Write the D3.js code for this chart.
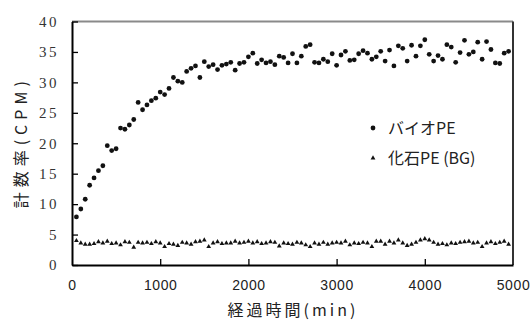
<!DOCTYPE html>
<html>
<head>
<meta charset="utf-8">
<script src="https://cdn.jsdelivr.net/npm/d3@7"></script>
<style>
  body { margin: 0; background: #fff; }
  svg { display: block; }
  .yaxis text { font-family: "Liberation Serif", "DejaVu Serif", serif; }
</style>
</head>
<body>
<div id="chart"></div>
<script>
// elapsed time (min)
const times = [
    50, 100, 150, 200, 250, 300, 350, 400, 450, 500,
    550, 600, 650, 700, 750, 800, 850, 900, 950, 1000,
    1050, 1100, 1150, 1200, 1250, 1300, 1350, 1400, 1450, 1500,
    1550, 1600, 1650, 1700, 1750, 1800, 1850, 1900, 1950, 2000,
    2050, 2100, 2150, 2200, 2250, 2300, 2350, 2400, 2450, 2500,
    2550, 2600, 2650, 2700, 2750, 2800, 2850, 2900, 2950, 3000,
    3050, 3100, 3150, 3200, 3250, 3300, 3350, 3400, 3450, 3500,
    3550, 3600, 3650, 3700, 3750, 3800, 3850, 3900, 3950, 4000,
    4050, 4100, 4150, 4200, 4250, 4300, 4350, 4400, 4450, 4500,
    4550, 4600, 4650, 4700, 4750, 4800, 4850, 4900, 4950
];
// バイオPE count rate (CPM)
const bioPE = [
    7.9, 9.2, 10.8, 13.1, 14.3, 15.5, 16.3, 19.6, 18.8, 19.1,
    22.5, 22.3, 23.0, 23.9, 26.7, 25.5, 26.3, 27.0, 27.4, 28.4,
    28.0, 29.0, 30.8, 30.2, 30.0, 31.8, 32.3, 32.7, 30.8, 33.4,
    32.6, 32.9, 32.1, 32.8, 33.0, 33.3, 32.0, 33.1, 33.3, 34.2,
    34.8, 33.1, 33.7, 33.2, 33.4, 32.9, 34.3, 34.1, 33.2, 34.7,
    33.2, 34.3, 35.9, 36.2, 33.3, 33.2, 33.8, 33.4, 34.7, 32.8,
    34.5, 35.1, 33.6, 33.7, 34.7, 35.2, 34.8, 33.8, 34.2, 35.1,
    33.5, 35.3, 32.7, 36.0, 35.6, 33.5, 36.1, 34.3, 36.0, 37.0,
    34.6, 33.5, 34.4, 33.8, 36.2, 35.8, 33.3, 34.9, 36.9, 34.6,
    35.0, 36.6, 33.8, 36.7, 35.4, 33.2, 33.1, 34.8, 35.1
];
// 化石PE (BG) count rate (CPM)
const fossilPE = [
    4.0, 3.6, 3.4, 3.4, 3.5, 3.8, 3.6, 3.9, 3.5, 3.6,
    3.3, 3.8, 3.7, 2.9, 3.7, 3.6, 3.7, 3.5, 3.8, 3.6,
    3.0, 3.5, 3.4, 3.2, 3.7, 3.6, 3.4, 3.8, 3.9, 4.1,
    3.0, 3.6, 3.8, 3.5, 3.6, 3.6, 3.9, 3.6, 3.7, 3.9,
    3.6, 3.8, 3.5, 3.6, 3.8, 3.7, 3.1, 3.6, 3.5, 3.4,
    3.7, 3.6, 3.3, 3.0, 3.6, 3.4, 3.7, 3.4, 3.6, 3.7,
    3.6, 3.9, 3.3, 3.6, 3.5, 3.7, 3.6, 3.0, 3.9, 3.9,
    3.4, 3.9, 3.6, 4.1, 3.6, 3.2, 3.4, 3.7, 4.1, 4.3,
    4.1, 3.7, 3.4, 3.5, 3.3, 3.6, 3.5, 3.7, 3.8, 3.9,
    3.6, 3.7, 3.0, 3.6, 3.8, 3.5, 3.7, 3.9, 3.4
];
const xTicks = [0, 1000, 2000, 3000, 4000, 5000];
const yTicks = [0, 5, 10, 15, 20, 25, 30, 35, 40];
const seriesNames = ["バイオPE", "化石PE (BG)"];

const width = 532;
const height = 320;
const margin = { top: 21.5, right: 19, bottom: 55, left: 72 };

const svg = d3.select("#chart")
    .append("svg")
    .attr("width", width)
    .attr("height", height);

svg.append("rect")
    .attr("width", width)
    .attr("height", height)
    .attr("fill", "#fff");

const x = d3.scaleLinear()
    .domain([0, 5000])
    .range([margin.left, width - margin.right]);
const y = d3.scaleLinear()
    .domain([0, 40])
    .range([height - margin.bottom, margin.top]);

// frame: top (grey) and right (dark)
svg.append("line")
    .attr("x1", x(0)).attr("x2", x(5000))
    .attr("y1", y(40)).attr("y2", y(40))
    .attr("stroke", "#8a8a8a").attr("stroke-width", 2);
svg.append("line")
    .attr("x1", x(5000)).attr("x2", x(5000))
    .attr("y1", y(40)).attr("y2", y(0))
    .attr("stroke", "#333").attr("stroke-width", 2);

// y axis, ticks pointing inward
const yAxis = svg.append("g")
    .attr("class", "yaxis")
    .attr("transform", `translate(${x(0)},0)`)
    .call(d3.axisLeft(y).tickValues(yTicks).tickSizeInner(-6).tickSizeOuter(0).tickPadding(13));
yAxis.select(".domain").attr("stroke", "#000").attr("stroke-width", 2);
yAxis.selectAll(".tick line").attr("stroke", "#000").attr("stroke-width", 1.3);
yAxis.attr("font-size", 15);
yAxis.selectAll(".tick text")
    .attr("fill", "#333")
    .style("letter-spacing", "2.5px");

// x axis, ticks pointing inward
const xAxis = svg.append("g")
    .attr("transform", `translate(0,${y(0)})`)
    .call(d3.axisBottom(x).tickValues(xTicks).tickFormat(d3.format("d"))
        .tickSizeInner(-6).tickSizeOuter(0).tickPadding(15));
xAxis.select(".domain").attr("stroke", "#000").attr("stroke-width", 2);
xAxis.selectAll(".tick line")
    .attr("stroke", "#000").attr("stroke-width", 1.3)
    .attr("display", d => (d === 0 || d === 5000) ? "none" : null);
xAxis.attr("font-family", "'Liberation Sans', Arial, sans-serif").attr("font-size", 14);
xAxis.selectAll(".tick text")
    .attr("fill", "#222")
    .style("letter-spacing", "0.6px");

// axis titles
svg.append("text")
    .attr("transform", `translate(27,${(y(0) + y(40)) / 2 - 1}) rotate(-90)`)
    .attr("text-anchor", "middle")
    .attr("fill", "#222")
    .style("font-family", "'Noto Sans CJK JP', sans-serif")
    .style("font-size", "16px")
    .style("letter-spacing", "5px")
    .text("計数率(CPM)");

svg.append("text")
    .attr("x", 293)
    .attr("y", 316)
    .attr("text-anchor", "middle")
    .attr("fill", "#222")
    .style("font-family", "'Noto Sans CJK JP', sans-serif")
    .style("font-size", "16px")
    .style("letter-spacing", "3px")
    .text("経過時間(min)");

// data: fossil PE triangles
const tri = d3.symbol().type(d3.symbolTriangle).size(10);
svg.append("g")
    .selectAll("path")
    .data(times.map((t, i) => ({ t, v: fossilPE[i] })))
    .enter()
    .append("path")
    .attr("d", tri)
    .attr("transform", d => `translate(${x(d.t)},${y(d.v)})`)
    .attr("fill", "#111");

// data: bio PE dots
svg.append("g")
    .selectAll("circle")
    .data(times.map((t, i) => ({ t, v: bioPE[i] })))
    .enter()
    .append("circle")
    .attr("cx", d => x(d.t))
    .attr("cy", d => y(d.v))
    .attr("r", 2.4)
    .attr("fill", "#111");

// legend
const legend = svg.append("g").attr("transform", "translate(373,128)");
legend.append("circle").attr("cx", 0).attr("cy", 0).attr("r", 2.4).attr("fill", "#111");
legend.append("path").attr("d", tri).attr("transform", "translate(0,30)").attr("fill", "#111");
legend.selectAll("text")
    .data(seriesNames)
    .enter()
    .append("text")
    .attr("x", 15)
    .attr("y", (d, i) => i * 30 + 6)
    .attr("fill", "#222")
    .style("font-family", "'Noto Sans CJK JP', sans-serif")
    .style("font-size", "16px")
    .text(d => d);
</script>
</body>
</html>
